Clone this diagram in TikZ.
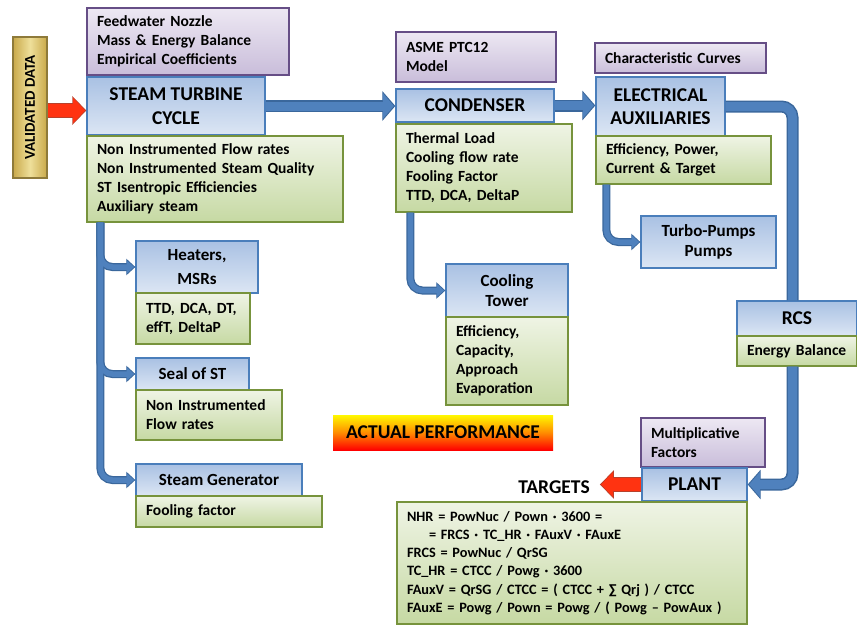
\documentclass[tikz,border=0pt]{standalone}
\usepackage{fontspec}
\setmainfont{Carlito}
\usetikzlibrary{arrows.meta}
\definecolor{bbord}{HTML}{4A7EBB}
\definecolor{btop}{HTML}{A9C1E3}
\definecolor{bbot}{HTML}{DCE6F4}
\definecolor{gbord}{HTML}{77933C}
\definecolor{gtop}{HTML}{EFF4E5}
\definecolor{gbot}{HTML}{C6D9A3}
\definecolor{pbord}{HTML}{664E86}
\definecolor{ptop}{HTML}{EDE8F3}
\definecolor{pbot}{HTML}{C9BDDA}
\definecolor{cbord}{HTML}{3A679C}
\definecolor{cfill}{HTML}{4F81BD}
\definecolor{rfill}{HTML}{FF3311}
\definecolor{rbord}{HTML}{B8412C}
\definecolor{gold}{HTML}{C9A94A}
\definecolor{goldl}{HTML}{EEDF9A}
\definecolor{goldb}{HTML}{8E7A3A}
\newcommand\mytxt{\fontsize{15.5}{19}\selectfont\bfseries}
\newcommand\myttl{\fontsize{19.5}{23.5}\selectfont\bfseries}
\newcommand\mysub{\fontsize{17}{20}\selectfont\bfseries}
\tikzset{
  base/.style={inner sep=0pt, line width=1.3pt},
  bluebox/.style={base, draw=bbord, top color=btop, bottom color=bbot, align=center, font=\myttl},
  bluesub/.style={bluebox, font=\mysub},
  greenbox/.style={base, draw=gbord, top color=gtop, bottom color=gbot, align=left, font=\mytxt},
  purplebox/.style={base, draw=pbord, top color=ptop, bottom color=pbot, align=left, font=\mytxt},
  cB/.style={draw=cbord, line width=12pt, rounded corners=11pt},
  cF/.style={draw=cfill, line width=9pt, rounded corners=11pt},
  sB/.style={draw=cbord, line width=8pt, rounded corners=12pt},
  sF/.style={draw=cfill, line width=5.5pt, rounded corners=12pt},
  tipB/.style={-{Triangle[width=29pt,length=13pt]}},
  tipF/.style={-{Triangle[width=25pt,length=11pt]}, shorten >=1.5pt},
  stipB/.style={-{Triangle[width=16pt,length=9pt]}},
  stipF/.style={-{Triangle[width=13pt,length=7.5pt]}, shorten >=1.2pt},
  rB/.style={draw=rbord, line width=15pt, -{Triangle[width=28pt,length=14pt]}},
  rF/.style={draw=rfill, line width=12.5pt, -{Triangle[width=24.5pt,length=12pt]}, shorten >=1.2pt},
}
\begin{document}
\begin{tikzpicture}[x=1pt,y=-1pt]
\useasboundingbox (0,0) rectangle (857,626);
% boxes
\node[base, draw=goldb, left color=gold, right color=gold, middle color=goldl, minimum width=34pt, minimum height=141pt] (vd) at (30,107.5) {};
\node[rotate=90, font=\fontsize{15}{17}\selectfont\bfseries] (vdt) at (vd.center) {VALIDATED DATA};
\node[purplebox, minimum width=202pt, minimum height=67pt, text width=182pt] (fw) at (188,41.5) {Feedwater Nozzle\\Mass \& Energy Balance\\Empirical Coefficients};
\node[bluebox, minimum width=178pt, minimum height=58pt] (st) at (176,106) {STEAM TURBINE\\CYCLE};
\node[greenbox, minimum width=256pt, minimum height=86pt, text width=236pt] (stg) at (215,179) {Non Instrumented Flow rates\\Non Instrumented Steam Quality\\ST Isentropic Efficiencies\\Auxiliary steam};
\node[purplebox, minimum width=160pt, minimum height=50pt, text width=140pt] (asme) at (476,57) {ASME PTC12\\Model};
\node[bluebox, minimum width=158pt, minimum height=33pt] (cond) at (475,105.5) {CONDENSER};
\node[greenbox, minimum width=176pt, minimum height=88pt, text width=156pt] (condg) at (484,168) {Thermal Load\\Cooling flow rate\\Fooling Factor\\TTD, DCA, DeltaP};
\node[purplebox, minimum width=171pt, minimum height=30pt, text width=151pt] (char) at (680.5,58) {Characteristic Curves};
\node[bluebox, minimum width=129pt, minimum height=59pt] (elec) at (660.5,106.5) {ELECTRICAL\\AUXILIARIES};
\node[greenbox, minimum width=175pt, minimum height=48pt, text width=155pt] (elecg) at (683.5,160) {Efficiency, Power,\\Current \& Target};
\node[bluesub, minimum width=135pt, minimum height=52pt] (turbo) at (708.5,242) {Turbo-Pumps\\Pumps};
\node[bluesub, minimum width=122pt, minimum height=52pt] (heat) at (197,267) {Heaters,\\[4pt]MSRs};
\node[greenbox, minimum width=114pt, minimum height=51pt, text width=94pt] (heatg) at (193,318.5) {TTD, DCA, DT,\\effT, DeltaP};
\node[bluesub, minimum width=113pt, minimum height=32pt] (seal) at (192.5,374) {Seal of ST};
\node[greenbox, minimum width=146pt, minimum height=50pt, text width=126pt] (sealg) at (209,415) {Non Instrumented\\Flow rates};
\node[bluesub, minimum width=166pt, minimum height=32pt] (sg) at (219,480) {Steam Generator};
\node[greenbox, minimum width=186pt, minimum height=31pt, text width=166pt] (sgg) at (229,511.5) {Fooling factor};
\node[bluesub, minimum width=122pt, minimum height=53pt] (ct) at (507,290.5) {Cooling\\Tower};
\node[greenbox, minimum width=122pt, minimum height=88pt, text width=102pt] (ctg) at (507,361) {Efficiency,\\Capacity,\\Approach\\Evaporation};
\node[bluebox, minimum width=120pt, minimum height=35pt] (rcs) at (797,318.5) {RCS};
\node[greenbox, minimum width=120pt, minimum height=30pt, text width=100pt] (rcsg) at (797,351) {Energy Balance};
\node[base, top color=yellow!95!orange, bottom color=red, middle color=orange!90!yellow, minimum width=220pt, minimum height=35pt, font=\myttl, text=black] (ap) at (443,432.5) {ACTUAL PERFORMANCE};
\node[purplebox, minimum width=124pt, minimum height=49pt, text width=104pt] (mult) at (703,442.5) {Multiplicative\\Factors};
\node[bluebox, minimum width=105pt, minimum height=33pt] (plant) at (694.5,484.5) {PLANT};
\node[greenbox, minimum width=350pt, minimum height=122pt, text width=330pt, font=\fontsize{14.3}{18.3}\selectfont\bfseries] (form) at (572,563) {NHR = PowNuc / Pown · 3600 =\\\hspace*{22pt}= FRCS · TC\_HR · FAuxV · FAuxE\\FRCS = PowNuc / QrSG\\TC\_HR = CTCC / Powg · 3600\\FAuxV = QrSG / CTCC = ( CTCC + ∑ Qrj ) / CTCC\\FAuxE = Powg / Pown = Powg / ( Powg – PowAux )};
\node[font=\myttl, inner sep=0pt] (tg) at (554,487) {TARGETS};
% connectors: borders
\draw[cB, tipB] (st.east) -- (st.east -| cond.west);
\draw[cB, tipB] (cond.east) -- (cond.east -| elec.west);
\draw[cB] (elec.east) -| ([xshift=-4.5pt]rcs.north);
\draw[cB, tipB] ([xshift=-4.5pt]rcsg.south) |- (plant.east);
\draw[sB, stipB] ([xshift=14pt]stg.south west) |- (heat.west);
\draw[sB, stipB] ([xshift=14pt]stg.south west) |- (seal.west);
\draw[sB, stipB] ([xshift=14pt]stg.south west) |- (sg.west);
\draw[sB, stipB] ([xshift=11pt]elecg.south west) |- (turbo.west);
\draw[sB, stipB] ([xshift=15pt]condg.south west) |- (ct.west);
% connectors: fills
\draw[cF, tipF] (st.east) -- (st.east -| cond.west);
\draw[cF, tipF] (cond.east) -- (cond.east -| elec.west);
\draw[cF] (elec.east) -| ([xshift=-4.5pt]rcs.north);
\draw[cF, tipF] ([xshift=-4.5pt]rcsg.south) |- (plant.east);
\draw[sF, stipF] ([xshift=14pt]stg.south west) |- (heat.west);
\draw[sF, stipF] ([xshift=14pt]stg.south west) |- (seal.west);
\draw[sF, stipF] ([xshift=14pt]stg.south west) |- (sg.west);
\draw[sF, stipF] ([xshift=11pt]elecg.south west) |- (turbo.west);
\draw[sF, stipF] ([xshift=15pt]condg.south west) |- (ct.west);
% red arrows
\draw[rB] ([yshift=-3pt]vd.east) -- ([yshift=-3pt]vd.east -| st.west);
\draw[rF] ([yshift=-3pt]vd.east) -- ([yshift=-3pt]vd.east -| st.west);
\draw[rB] (plant.west) -- ([xshift=10pt]tg.east |- plant.west);
\draw[rF] (plant.west) -- ([xshift=10pt]tg.east |- plant.west);
\end{tikzpicture}
\end{document}
